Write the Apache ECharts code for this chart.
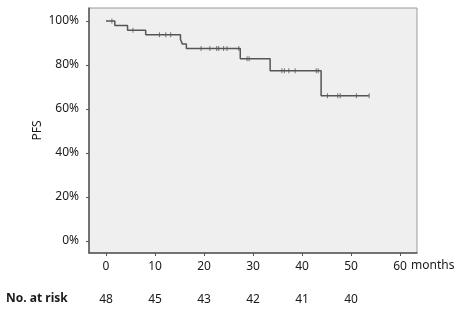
<!DOCTYPE html>
<html><head><meta charset="utf-8">
<script src="https://cdn.jsdelivr.net/npm/echarts@6/dist/echarts.min.js"></script>
<style>html,body{margin:0;padding:0;background:#fff}#c{width:459px;height:312px}</style>
</head><body><div id="c"></div>
<script>
// Kaplan-Meier step points: [months, PFS %]
var stepTimes = [0, 1.8, 4.4, 8.1, 15.2, 15.6, 16.4, 27.4, 33.5, 43.9, 53.7];
var stepSurv  = [100, 97.9, 95.8, 93.7, 91.6, 89.5, 87.5, 82.8, 77.4, 66.0, 66.0];
// censored observations
var censorTimes = [1.2, 5.5, 10.9, 12.2, 13.2, 19.4, 21.2, 22.6, 23.0, 24.0, 24.7, 27.1, 28.8, 29.2, 35.9, 36.4, 37.3, 38.6, 42.9, 43.3, 45.2, 47.3, 47.8, 51.1, 53.7];
var censorSurv  = [100, 95.8, 93.7, 93.7, 93.7, 87.5, 87.5, 87.5, 87.5, 87.5, 87.5, 87.5, 82.8, 82.8, 77.4, 77.4, 77.4, 77.4, 77.4, 77.4, 66.0, 66.0, 66.0, 66.0, 66.0];
var xTicks = [0, 10, 20, 30, 40, 50, 60];
var yTicks = [0, 20, 40, 60, 80, 100];
var riskTimes = [0, 10, 20, 30, 40, 50];
var atRisk = [48, 45, 43, 42, 41, 40];

var FONT = 'Noto Sans';
var TXT = '#1a1a1a';
var chart = echarts.init(document.getElementById('c'), null, {renderer: 'canvas'});
var riskMap = {};
riskTimes.forEach(function (t, i) { riskMap[t] = atRisk[i]; });

chart.setOption({
  animation: false,
  backgroundColor: '#ffffff',
  textStyle: {fontFamily: FONT},
  grid: {left: 89, top: 8, right: 42, bottom: 59, show: true, backgroundColor: '#efefef', borderColor: '#9a9a9a', borderWidth: 1},
  xAxis: [{
    type: 'value', min: -3.47, max: 63.47,
    axisLine: {show: true, onZero: false, lineStyle: {color: '#555', width: 1.5}},
    axisTick: {show: true, length: 3, customValues: xTicks, lineStyle: {color: '#555'}},
    axisLabel: {customValues: xTicks, margin: 8, fontSize: 12, color: TXT, fontFamily: FONT},
    splitLine: {show: false}
  }, {
    type: 'value', min: -3.47, max: 63.47, position: 'bottom', offset: 33,
    axisLine: {show: false, onZero: false}, axisTick: {show: false}, splitLine: {show: false},
    axisLabel: {customValues: riskTimes, margin: 8, fontSize: 12, color: TXT, fontFamily: FONT,
      formatter: function (v) { return riskMap[v] !== undefined ? String(riskMap[v]) : ''; }}
  }],
  yAxis: {
    type: 'value', min: -5.45, max: 105.9,
    axisLine: {show: true, onZero: false, lineStyle: {color: '#555', width: 1.5}},
    axisTick: {show: true, length: 3, customValues: yTicks, lineStyle: {color: '#555'}},
    axisLabel: {customValues: yTicks, margin: 10, fontSize: 12, color: TXT, fontFamily: FONT, formatter: '{value}%'},
    splitLine: {show: false},
    name: 'PFS', nameLocation: 'middle', nameGap: 45, nameRotate: 90, nameMoveOverlap: false,
    nameTextStyle: {fontSize: 12, color: TXT, fontFamily: FONT}
  },
  graphic: [{
    type: 'text', left: 6, top: 293,
    style: {text: 'No. at risk', font: 'bold 12px "Noto Sans"', fill: TXT}
  }, {
    type: 'text', left: 411, top: 260,
    style: {text: 'months', font: '12px "Noto Sans"', fill: TXT}
  }],
  series: [{
    type: 'line', step: 'end', showSymbol: false, symbol: 'none',
    data: stepTimes.map(function (t, i) { return [t, stepSurv[i]]; }),
    lineStyle: {color: '#555', width: 1.5}
  }, {
    type: 'scatter', symbol: 'rect', symbolSize: [1, 5],
    data: censorTimes.map(function (t, i) { return [t, censorSurv[i]]; }),
    itemStyle: {color: '#555'}
  }]
});
</script></body></html>
